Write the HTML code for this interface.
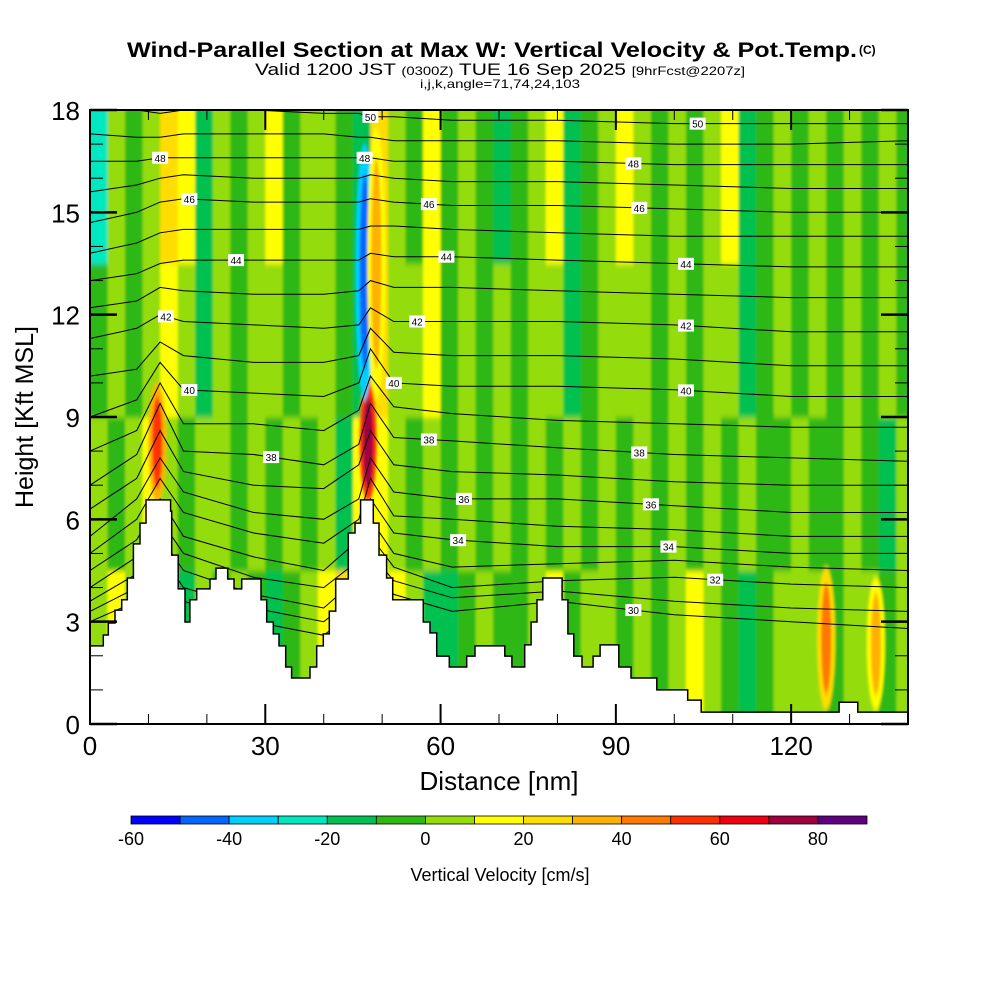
<!DOCTYPE html>
<html><head><meta charset="utf-8">
<style>
html,body{margin:0;padding:0;background:#fff;}
svg{display:block;font-family:"Liberation Sans",sans-serif;}
</style></head>
<body>
<svg id="chart" width="1000" height="1000" viewBox="0 0 1000 1000" xmlns="http://www.w3.org/2000/svg">
<defs><filter id="soft" x="-2%" y="-2%" width="104%" height="104%"><feGaussianBlur stdDeviation="1.2 3"/></filter>
<clipPath id="plotclip"><rect x="90" y="110" width="818" height="614"/></clipPath></defs>
<rect x="0" y="0" width="1000" height="1000" fill="#fff"/>
<g>
<text x="127" y="57" font-size="21" font-weight="bold" textLength="730" lengthAdjust="spacingAndGlyphs">Wind-Parallel Section at Max W: Vertical Velocity &amp; Pot.Temp.</text>
<text x="859" y="54" font-size="12" font-weight="bold">(C)</text>
<text x="255" y="75" font-size="17" textLength="490" lengthAdjust="spacingAndGlyphs">Valid 1200 JST <tspan font-size="12">(0300Z)</tspan> TUE 16 Sep 2025 <tspan font-size="12">[9hrFcst@2207z]</tspan></text>
<text x="500" y="88" font-size="12" text-anchor="middle" textLength="160" lengthAdjust="spacingAndGlyphs">i,j,k,angle=71,74,24,103</text>
</g>
<g clip-path="url(#plotclip)"><g id="field" filter="url(#soft)"></g></g>
<g id="contours"></g>
<g id="terrain"></g>
<g id="clabels"></g>
<g id="axes"></g>
<g id="cbar"></g>
</svg>
<script>
// ---- data ----
const colStepNm = 3;
const rowBoundsKft = [0, 4.5, 9, 13.5, 18];
const wRow1 = [5,15,5,15,5,-15,5,-5,5,-5,-15,-5,5,15,25,15,5,15,5,-15,-15,-5,5,-5,-5,5,15,-5,5,5,-5,5,-5,5,15,5,-5,-15,-5,5,5,5,-5,5,5,-5,5];
const wRow2 = [5,-5,5,15,5,-5,5,5,-5,5,-5,5,-5,5,-15,15,15,5,-5,5,-5,5,-5,5,-5,5,-5,5,-5,5,-5,5,-5,5,-5,5,-5,5,-5,-5,5,-5,-5,5,-5,-15,5];
const wRow3 = [-5,5,-5,5,15,5,-15,5,-5,5,5,-5,5,5,-5,-15,25,5,5,15,-5,5,-5,5,-5,5,5,-15,-5,5,5,5,-5,5,-5,5,5,-15,-5,5,-5,5,-5,5,-5,5,-5];
const wRow4 = [-25,5,-5,5,25,15,-15,5,-5,5,15,-5,5,5,-5,-15,25,5,-5,15,-5,5,-5,-15,-5,5,15,-15,-5,5,15,5,-5,5,-5,5,15,-15,-5,5,-5,5,-5,5,-5,5,-5];
// narrow plume cores: centre nm, bottom kft, top kft, value
const coreNm =   [11.5, 47.6, 47.0, 49.0, 126, 134.5];
const coreBot =  [6.5, 6.5, 9.5, 9.5, 0.4, 0.4];
const coreTop =  [10.0, 10.0, 17.0, 17.5, 4.6, 4.3];
const coreVal =  [55, 75, -45, 35, 45, 35];
const levels = [-60,-50,-40,-30,-20,-10,0,10,20,30,40,50,60,70,80,90];
const levelColors = ["#0000ff","#0066ff","#00d0ff","#00e8c0","#00c050","#2db812","#95dc0a","#ffff00","#ffdd00","#ffb000","#ff7800","#ff3000","#ee0010","#a00040","#600080"];
const cbarLabels = [-60,-40,-20,0,20,40,60,80];

const thetaXs = [0,8,12,16,28,40,46,48,52,62,80,100,120,140];
const th30=[3.0,3.6,4.5,3.6,3.0,2.6,3.4,4.5,3.8,3.3,3.6,3.2,3.0,2.8];
const th31=[3.3,4.0,5.0,4.0,3.4,3.0,3.8,5.0,4.2,3.7,3.9,3.6,3.4,3.3];
const th32=[3.6,4.4,5.5,4.5,3.8,3.4,4.3,5.5,4.6,4.0,4.2,4.3,4.1,4.0];
const th33=[4.0,4.9,6.0,5.0,4.3,4.0,4.8,6.0,5.0,4.6,4.7,4.8,4.6,4.5];
const th34=[4.5,5.4,6.6,5.5,4.9,4.5,5.4,6.6,5.6,5.4,5.2,5.2,5.0,5.0];
const th35=[5.0,6.0,7.2,6.2,5.6,5.3,6.0,7.2,6.1,6.0,5.8,5.7,5.5,5.5];
const th36=[5.5,6.6,7.8,6.8,6.2,6.0,6.6,7.8,6.8,6.6,6.6,6.4,6.2,6.2];
const th37=[6.3,7.2,8.6,7.4,7.0,6.9,7.6,8.6,7.6,7.4,7.3,7.1,7.0,7.0];
const th38=[7.0,7.9,9.4,8.0,7.9,7.6,8.2,9.4,8.4,8.3,8.1,7.9,7.8,7.7];
const th39=[8.0,8.6,10.0,8.8,8.8,8.6,9.2,10.2,9.3,9.1,8.9,8.8,8.7,8.7];
const th40=[9.0,9.5,10.6,9.8,9.7,9.6,10.0,11.0,10.0,9.9,9.9,9.8,9.6,9.6];
const th41=[10.2,10.4,11.2,10.8,10.6,10.6,10.8,11.6,10.9,10.8,10.8,10.7,10.5,10.5];
const th42=[11.3,11.6,12.0,11.8,11.7,11.6,11.7,12.2,11.8,11.8,11.8,11.7,11.5,11.5];
const th43=[12.2,12.4,12.8,12.7,12.6,12.6,12.7,13.0,12.8,12.8,12.7,12.6,12.5,12.5];
const th44=[13.0,13.2,13.5,13.6,13.6,13.6,13.6,13.8,13.7,13.7,13.6,13.5,13.4,13.4];
const th45=[13.8,14.1,14.4,14.5,14.5,14.5,14.5,14.6,14.6,14.5,14.4,14.3,14.3,14.3];
const th46=[14.7,15.0,15.3,15.4,15.3,15.3,15.3,15.4,15.3,15.2,15.2,15.1,15.0,15.0];
const th47=[15.6,15.8,16.0,16.1,16.0,16.0,16.0,16.1,16.0,15.9,15.9,15.8,15.7,15.7];
const th48=[16.5,16.5,16.6,16.6,16.6,16.6,16.6,16.6,16.5,16.5,16.5,16.4,16.4,16.4];
const th49=[17.3,17.2,17.2,17.3,17.3,17.3,17.2,17.2,17.1,17.1,17.1,17.0,17.0,17.1];
const th50=[18.2,18.0,17.9,18.0,18.0,17.9,17.9,17.8,17.8,17.7,17.7,17.6,17.6,17.6];
const thetaLines = [th30,th31,th32,th33,th34,th35,th36,th37,th38,th39,th40,th41,th42,th43,th44,th45,th46,th47,th48,th49,th50];
const thetaValues = [30,31,32,33,34,35,36,37,38,39,40,41,42,43,44,45,46,47,48,49,50];
const labelTheta = [50,50,48,48,48,46,46,46,44,44,44,42,42,42,40,40,40,38,38,38,36,36,34,34,32,30];
const labelNm =    [48,104,12,47,93,17,58,94,25,61,102,13,56,102,17,52,102,31,58,94,64,96,63,99,107,93];

const terrainNm =  [0,2.28,3.14,4.28,5.42,6.39,7.42,8.56,9.58,13.8,13.98,15.1,16.26,17.1,18.26,20.54,21.56,23.56,24.64,25.96,29.27,30.24,31.37,32.35,33.49,34.5,37.65,38.8,39.93,40.96,42.05,44.2,45.35,46.32,48.49,49.46,50.77,51.8,57.05,58.19,59.33,61.5,64.47,65.9,71.0,72.2,74.4,75.5,76.5,77.5,80.8,81.8,82.8,84.2,86.1,87.3,90.5,92.6,97.0,102.3,104.6,128.2,131.4];
const terrainKft = [2.29,2.61,2.96,3.34,3.64,4.28,5.28,5.89,6.57,6.24,4.95,3.96,2.99,3.64,3.96,4.25,4.57,4.25,3.96,4.25,3.64,2.99,2.64,2.29,1.67,1.35,1.67,2.29,2.64,3.31,4.25,5.6,5.89,6.57,5.89,4.95,4.28,3.64,2.99,2.67,1.99,1.67,1.99,2.29,1.99,1.67,2.32,2.99,3.64,4.28,3.64,2.64,1.99,1.67,1.99,2.32,1.67,1.35,1.0,0.7,0.35,0.64,0.35];

const xTicks = [0,30,60,90,120];
const yTicks = [0,3,6,9,12,15,18];

// ---- scales ----
const X0=90, X1=908, Y0=724, Y1=110;
const xMax=140, yMax=18;
const sx = v => X0 + v/xMax*(X1-X0);
const sy = v => Y0 - v/yMax*(Y0-Y1);
const NS="http://www.w3.org/2000/svg";
function mk(tag, attrs, parent){const e=document.createElementNS(NS,tag);for(const k in attrs)e.setAttribute(k,attrs[k]);parent.appendChild(e);return e;}
function colorFor(v){for(let i=0;i<levelColors.length;i++){if(v<levels[i+1])return levelColors[i];}return levelColors[levelColors.length-1];}

// field
const field=document.getElementById('field');
const rows=[wRow1,wRow2,wRow3,wRow4];
rows.forEach((row,r)=>{
  row.forEach((v,c)=>{
    const x0=sx(c*colStepNm)-(c===0?6:0), x1=sx(Math.min((c+1)*colStepNm,xMax))+(c===row.length-1?6:0);
    const yTop=sy(rowBoundsKft[r+1])-(r===3?8:0), yBot=sy(rowBoundsKft[r])+(r===0?8:0);
    const rc=mk('rect',{x:x0,y:yTop,width:x1-x0+0.5,height:yBot-yTop+0.5,fill:colorFor(v)},field);
    
    
  });
});
coreNm.forEach((nm,i)=>{
  const v=coreVal[i];
  const outer=mk('ellipse',{cx:sx(nm),cy:(sy(coreBot[i])+sy(coreTop[i]))/2,rx:9,ry:(sy(coreBot[i])-sy(coreTop[i]))/2,fill:colorFor(v>0?v-20:v+10)},field);
  
  
  const inner=mk('ellipse',{cx:sx(nm),cy:(sy(coreBot[i])+sy(coreTop[i]))/2,rx:5,ry:(sy(coreBot[i])-sy(coreTop[i]))/2.6,fill:colorFor(v)},field);
  
  
});

// theta contours
const cont=document.getElementById('contours');
function thetaAt(line,nm){for(let i=0;i<thetaXs.length-1;i++){if(nm<=thetaXs[i+1]){const t=(nm-thetaXs[i])/(thetaXs[i+1]-thetaXs[i]);return line[i]+t*(line[i+1]-line[i]);}}return line[line.length-1];}
thetaLines.forEach((line,i)=>{
  const d=line.map((h,j)=>(j?'L':'M')+sx(thetaXs[j]).toFixed(1)+','+sy(Math.min(h,18)).toFixed(1)).join(' ');
  const p=mk('path',{d:d,fill:'none',stroke:'#000','stroke-width':1},cont);
  
  
});

// terrain
const ter=document.getElementById('terrain');
let td='M'+sx(0)+','+sy(0);
terrainNm.forEach((nm,i)=>{const next=i<terrainNm.length-1?terrainNm[i+1]:xMax;td+=' L'+sx(nm).toFixed(1)+','+sy(terrainKft[i]).toFixed(1)+' L'+sx(next).toFixed(1)+','+sy(terrainKft[i]).toFixed(1);});
td+=' L'+sx(xMax)+','+sy(0)+' Z';
const tp=mk('path',{d:td,fill:'#fff',stroke:'#000','stroke-width':1.5},ter);



// contour labels
const cl=document.getElementById('clabels');
labelTheta.forEach((th,i)=>{
  const h=thetaAt(thetaLines[thetaValues.indexOf(th)],labelNm[i]);
  const x=sx(labelNm[i]), y=sy(h);
  const g=mk('g',{},cl);
  
  
  mk('rect',{x:x-8,y:y-6,width:16,height:12,fill:'#fff'},g);
  const t=mk('text',{x:x,y:y+4,'font-size':10,'text-anchor':'middle'},g);
  t.textContent=th;
});

// axes
const ax=document.getElementById('axes');
const frame=mk('rect',{x:X0,y:Y1,width:X1-X0,height:Y0-Y1,fill:'none',stroke:'#000','stroke-width':2},ax);


for(let v=0;v<=xMax;v+=10){
  const major=v%30===0, L=major?20:10;
  mk('line',{x1:sx(v),x2:sx(v),y1:Y0,y2:Y0-L,stroke:'#000','stroke-width':major?2:1},ax);
  mk('line',{x1:sx(v),x2:sx(v),y1:Y1,y2:Y1+L,stroke:'#000','stroke-width':major?2:1},ax);
}
for(let v=0;v<=yMax;v+=1){
  const major=v%3===0, L=major?27:13;
  mk('line',{x1:X0,x2:X0+L,y1:sy(v),y2:sy(v),stroke:'#000','stroke-width':major?2.5:1},ax);
  mk('line',{x1:X1,x2:X1-L,y1:sy(v),y2:sy(v),stroke:'#000','stroke-width':major?2.5:1},ax);
}
xTicks.forEach(v=>{const t=mk('text',{x:sx(v),y:755,'font-size':26,'text-anchor':'middle'},ax);t.textContent=v;});
yTicks.forEach(v=>{const t=mk('text',{x:80,y:sy(v)+10,'font-size':26,'text-anchor':'end'},ax);t.textContent=v;});
const xl=mk('text',{x:499,y:790,'font-size':26,'text-anchor':'middle'},ax);
xl.textContent='Distance [nm]';
const yl=mk('text',{x:33,y:417,'font-size':25,'text-anchor':'middle',transform:'rotate(-90 33 417)'},ax);
yl.textContent='Height [Kft MSL]';

// colorbar
const cb=document.getElementById('cbar');
const CB0=131, CB1=867, cs=v=>CB0+(v-levels[0])/(levels[levels.length-1]-levels[0])*(CB1-CB0);
levelColors.forEach((c,i)=>{
  const r=mk('rect',{x:cs(levels[i]),y:816,width:cs(levels[i+1])-cs(levels[i]),height:8,fill:c,stroke:'#000','stroke-width':0.8},cb);
  
  
});
cbarLabels.forEach(v=>{const t=mk('text',{x:cs(v),y:845,'font-size':18,'text-anchor':'middle'},cb);t.textContent=v;});
const ct=mk('text',{x:500,y:881,'font-size':18,'text-anchor':'middle'},cb);
ct.textContent='Vertical Velocity [cm/s]';
</script>
</body></html>
